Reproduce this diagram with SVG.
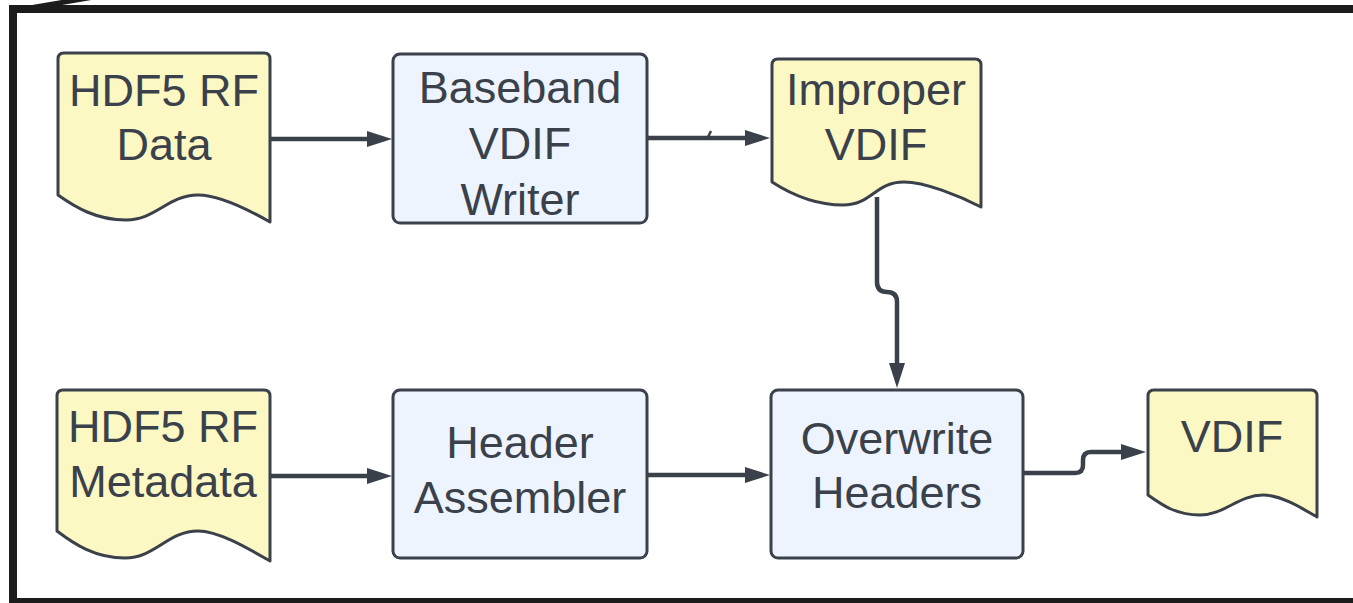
<svg xmlns="http://www.w3.org/2000/svg" width="1353" height="603" viewBox="0 0 1353 603">
  <style>
    .doc { fill: #fbf8c4; stroke: #3a414a; stroke-width: 3; stroke-linejoin: round; }
    .box { fill: #edf4fe; stroke: #3a414a; stroke-width: 3; }
    .lbl { font-family: "Liberation Sans", Arial, sans-serif; font-size: 45px; fill: #3a414a; text-anchor: middle; }
    .wire { fill: none; stroke: #3a414a; stroke-width: 4.5; stroke-linejoin: round; marker-end: url(#arrow); }
    .frame { fill: none; stroke: #1c1c1c; stroke-width: 8; }
  </style>
  <defs>
    <marker id="arrow" markerUnits="userSpaceOnUse" markerWidth="26" markerHeight="18" refX="0" refY="9" orient="auto">
      <path d="M0,1 L25,9 L0,17 Z" fill="#3a414a"/>
    </marker>
  </defs>

  <rect width="1353" height="603" fill="#ffffff"/>

  <!-- outer frame -->
  <g id="frame">
    <rect class="frame" x="13" y="9" width="1400" height="593"/>
    <path d="M12,11 L94,-3" stroke="#1c1c1c" stroke-width="5" fill="none"/>
  </g>

  <!-- connectors -->
  <g id="connectors">
    <path class="wire" d="M269,139 H367"/>
    <path class="wire" d="M647,138 H745"/>
    <path d="M707,139 L711,131" stroke="#3a414a" stroke-width="2.5" fill="none"/>
    <path class="wire" d="M877,197 V282 Q877,292 887,292 Q897,292 897,302 V363"/>
    <path class="wire" d="M270,476 H367"/>
    <path class="wire" d="M647,475 H745"/>
    <path class="wire" d="M1023,473 H1075 Q1083,473 1083,465 V460 Q1083,452 1091,452 H1121"/>
  </g>

  <g id="hdf5-rf-data">
    <path class="doc" d="M58,59 Q58,53 64,53 H264 Q270,53 270,59 V222 C249,210 219,195 198,195 C168,195 156,220 126,220 C96,220 75,207 58,195 Z"/>
    <text class="lbl" x="164" y="106">HDF5 RF</text>
    <text class="lbl" x="164" y="160">Data</text>
  </g>

  <g id="baseband-vdif-writer">
    <rect class="box" x="393" y="54" width="254" height="169" rx="7"/>
    <text class="lbl" x="520" y="103">Baseband</text>
    <text class="lbl" x="520" y="159">VDIF</text>
    <text class="lbl" x="520" y="215">Writer</text>
  </g>

  <g id="improper-vdif">
    <path class="doc" d="M772,65 Q772,59 778,59 H975 Q981,59 981,65 V207 C960,196 925,182 904,182 C875,182 872,205 843,205 C814,205 789,193 772,182 Z"/>
    <text class="lbl" x="876" y="105">Improper</text>
    <text class="lbl" x="876" y="160">VDIF</text>
  </g>

  <g id="hdf5-rf-metadata">
    <path class="doc" d="M57,396 Q57,390 63,390 H264 Q270,390 270,396 V561 C249,549 219,531 198,531 C168,531 155,558 125,558 C95,558 74,544 57,531 Z"/>
    <text class="lbl" x="163" y="442">HDF5 RF</text>
    <text class="lbl" x="163" y="497">Metadata</text>
  </g>

  <g id="header-assembler">
    <rect class="box" x="393" y="390" width="254" height="168" rx="7"/>
    <text class="lbl" x="520" y="458">Header</text>
    <text class="lbl" x="520" y="513">Assembler</text>
  </g>

  <g id="overwrite-headers">
    <rect class="box" x="771" y="390" width="252" height="168" rx="7"/>
    <text class="lbl" x="897" y="454">Overwrite</text>
    <text class="lbl" x="897" y="508">Headers</text>
  </g>

  <g id="vdif">
    <path class="doc" d="M1148,396 Q1148,390 1154,390 H1311 Q1317,390 1317,396 V517 C1300,507 1280,495 1263,495 C1239,495 1224,515 1200,515 C1176,515 1162,505 1148,495 Z"/>
    <text class="lbl" x="1232" y="452">VDIF</text>
  </g>
</svg>
